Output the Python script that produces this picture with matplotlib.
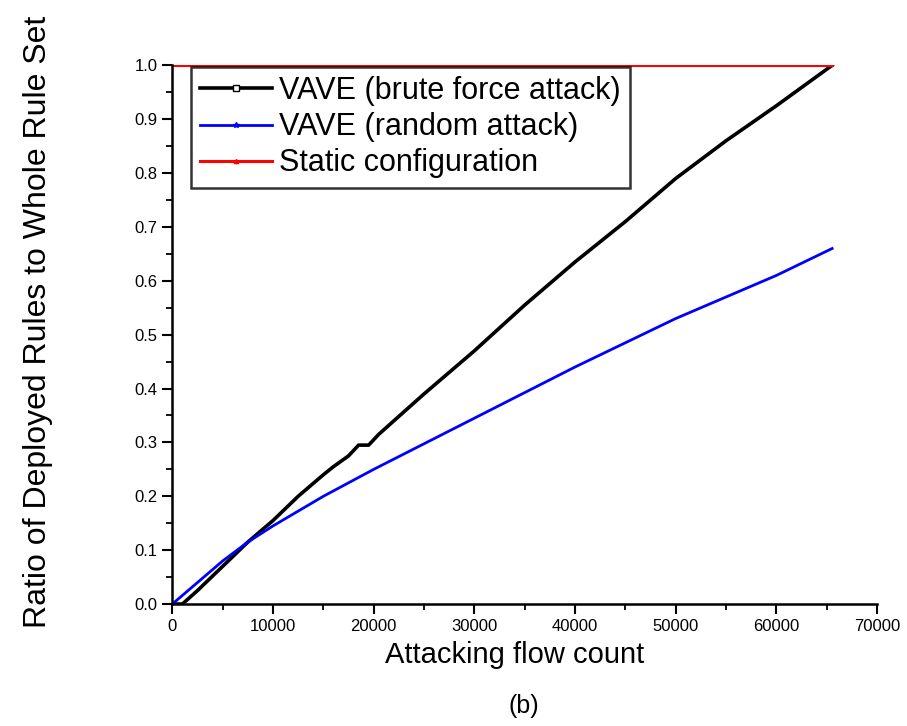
import matplotlib
matplotlib.use("Agg")
import matplotlib.pyplot as plt
from matplotlib.ticker import MultipleLocator

plt.rcParams["font.family"] = ["Liberation Sans", "DejaVu Sans"]

# brute force attack (VAVE)
brute_x = [0, 1000, 2500, 5000, 7500, 10000, 12500, 15000, 16000, 17500, 18500,
           19500, 20500, 25000, 30000, 35000, 40000, 45000, 50000, 55000, 60000, 65536]
brute_y = [0.0, 0.0, 0.025, 0.07, 0.115, 0.155, 0.2, 0.24, 0.255, 0.275, 0.295,
           0.295, 0.315, 0.39, 0.47, 0.555, 0.635, 0.71, 0.79, 0.86, 0.925, 1.0]

# random attack (VAVE)
random_x = [0, 2500, 5000, 7500, 10000, 15000, 20000, 30000, 40000, 50000, 60000, 65536]
random_y = [0.0, 0.04, 0.08, 0.115, 0.145, 0.2, 0.25, 0.345, 0.44, 0.53, 0.61, 0.66]

# static configuration
static_x = [0, 65536]
static_y = [1.0, 1.0]

fig = plt.figure(figsize=(9.07, 7.26), dpi=100)
ax = fig.add_axes([0.19, 0.168, 0.777, 0.742])

ax.plot(brute_x, brute_y, color="black", linewidth=2.6, label="VAVE (brute force attack)",
        marker="s", markersize=5, markerfacecolor="white", markevery=[])
ax.plot(random_x, random_y, color="#0000ff", linewidth=2.0, label="VAVE (random attack)",
        marker="*", markersize=4, markevery=[])
ax.plot(static_x, static_y, color="#ff0000", linewidth=2.2, label="Static configuration",
        marker="^", markersize=3, markevery=[])

ax.set_xlim(0, 70000)
ax.set_ylim(0, 1.0)
ax.xaxis.set_major_locator(MultipleLocator(10000))
ax.xaxis.set_minor_locator(MultipleLocator(5000))
ax.yaxis.set_major_locator(MultipleLocator(0.1))
ax.yaxis.set_minor_locator(MultipleLocator(0.05))
ax.yaxis.set_major_formatter(plt.FuncFormatter(lambda v, p: f"{v:.1f}"))

for side in ("top", "right"):
    ax.spines[side].set_visible(False)
for side in ("left", "bottom"):
    ax.spines[side].set_linewidth(1.8)
ax.tick_params(which="major", direction="out", length=7, width=1.5, labelsize=12)
ax.tick_params(which="minor", direction="out", length=4, width=1.3)

ax.set_xlabel("Attacking flow count", fontsize=21)
ax.xaxis.set_label_coords(0.485, -0.068)
ax.set_ylabel("Ratio of Deployed Rules to Whole Rule Set", fontsize=23)
ax.yaxis.set_label_coords(-0.17, 0.523)

leg = ax.legend(loc="upper left", bbox_to_anchor=(0.026, 0.997), fontsize=22,
                frameon=True, fancybox=False, handlelength=2.35, handletextpad=0.25,
                borderpad=0.3, labelspacing=0.2, borderaxespad=0)
leg.get_frame().set_edgecolor("black")
leg.get_frame().set_linewidth(1.8)

fig.text(0.578, 0.018, "(b)", ha="center", fontsize=18)

fig.savefig("out.png", dpi=100)
